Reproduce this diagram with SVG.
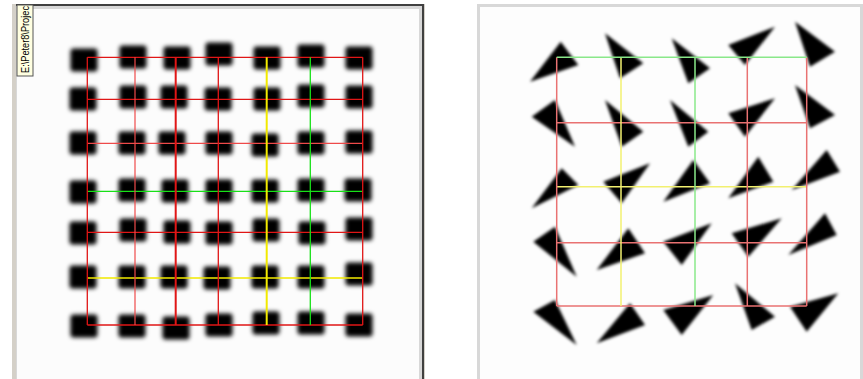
<svg xmlns="http://www.w3.org/2000/svg" width="863" height="379" viewBox="0 0 863 379">
<defs>
<style>
.sq{fill:#000;filter:url(#bl)}
.tr{fill:#000;filter:url(#bt)}
.lr{stroke:#e01616;stroke-width:1.3;fill:none}
.lr2{stroke:#ee4a4a;stroke-width:1.2;fill:none}
.ly{stroke:#f2ea00;stroke-width:2;fill:none}
.lg{stroke:#18e018;stroke-width:1.3;fill:none}
.rr{stroke:#e97272;stroke-width:1.5;fill:none}
.ry{stroke:#f2f070;stroke-width:1.5;fill:none}
.rg{stroke:#8ae88a;stroke-width:1.5;fill:none}
.lbl{font-family:"Liberation Sans",Arial,sans-serif;font-size:10px;fill:#000}
</style>
<filter id="bl" x="-30%" y="-30%" width="160%" height="160%"><feGaussianBlur stdDeviation="1.9"/></filter>
<filter id="bt" x="-30%" y="-30%" width="160%" height="160%"><feGaussianBlur stdDeviation="1.6"/></filter>
<rect id="s" x="-13.5" y="-11.5" width="27" height="23" rx="3"/>
</defs>
<rect width="863" height="379" fill="#fff"/>
<g id="left-panel">
<rect x="12" y="4" width="413" height="380" fill="#d4d0c8"/>
<rect x="16" y="4" width="408" height="380" fill="#404040"/>
<rect x="16" y="6" width="406" height="380" fill="#d8d8d8"/>
<rect x="17" y="9" width="402" height="375" fill="#fcfcfc"/>
<g id="tooltip">
<rect x="17" y="5" width="16" height="71" fill="#ffffe1" stroke="#555" stroke-width="1"/>
<text class="lbl" transform="translate(29,73) rotate(-90)" textLength="67" lengthAdjust="spacingAndGlyphs">E:\Peter8\Projec</text>
</g>
<g id="squares">
<use href="#s" x="84" y="60" class="sq"/><use href="#s" x="133" y="57" class="sq"/><use href="#s" x="177" y="58" class="sq"/><use href="#s" x="219" y="54" class="sq"/><use href="#s" x="267" y="58" class="sq"/><use href="#s" x="311" y="56" class="sq"/><use href="#s" x="359" y="58" class="sq"/>
<use href="#s" x="83" y="99" class="sq"/><use href="#s" x="133" y="97" class="sq"/><use href="#s" x="174" y="97" class="sq"/><use href="#s" x="218" y="99" class="sq"/><use href="#s" x="267" y="99" class="sq"/><use href="#s" x="311" y="96" class="sq"/><use href="#s" x="359" y="97" class="sq"/>
<use href="#s" x="83" y="143" class="sq"/><use href="#s" x="132" y="143" class="sq"/><use href="#s" x="172" y="143" class="sq"/><use href="#s" x="219" y="143" class="sq"/><use href="#s" x="265" y="145" class="sq"/><use href="#s" x="311" y="143" class="sq"/><use href="#s" x="359" y="142" class="sq"/>
<use href="#s" x="83" y="192" class="sq"/><use href="#s" x="132" y="190" class="sq"/><use href="#s" x="175" y="191" class="sq"/><use href="#s" x="219" y="191" class="sq"/><use href="#s" x="265" y="191" class="sq"/><use href="#s" x="311" y="190" class="sq"/><use href="#s" x="358" y="190" class="sq"/>
<use href="#s" x="83" y="233" class="sq"/><use href="#s" x="133" y="230" class="sq"/><use href="#s" x="177" y="232" class="sq"/><use href="#s" x="219" y="233" class="sq"/><use href="#s" x="266" y="230" class="sq"/><use href="#s" x="312" y="233" class="sq"/><use href="#s" x="359" y="229" class="sq"/>
<use href="#s" x="83" y="277" class="sq"/><use href="#s" x="132" y="277" class="sq"/><use href="#s" x="174" y="277" class="sq"/><use href="#s" x="217" y="278" class="sq"/><use href="#s" x="265" y="277" class="sq"/><use href="#s" x="311" y="277" class="sq"/><use href="#s" x="359" y="274" class="sq"/>
<use href="#s" x="84" y="326" class="sq"/><use href="#s" x="132" y="326" class="sq"/><use href="#s" x="176" y="328" class="sq"/><use href="#s" x="219" y="325" class="sq"/><use href="#s" x="266" y="323" class="sq"/><use href="#s" x="311" y="323" class="sq"/><use href="#s" x="359" y="325" class="sq"/>
</g>
<g id="left-grid">
<line class="lr" x1="87.3" y1="57.3" x2="362.7" y2="57.3"/>
<line class="lr" x1="87.3" y1="99.3" x2="362.7" y2="99.3"/>
<line class="lr2" x1="87.3" y1="143.3" x2="362.7" y2="143.3"/>
<line class="lg" x1="87.3" y1="191.3" x2="362.7" y2="191.3"/>
<line class="lr" x1="87.3" y1="232.3" x2="362.7" y2="232.3"/>
<line class="ly" x1="87.3" y1="278" x2="362.7" y2="278" style="stroke-width:1.4"/>
<line class="lr" x1="87.3" y1="325" x2="362.7" y2="325"/>
<line class="lr" x1="87.3" y1="57.3" x2="87.3" y2="325"/>
<line class="lr2" x1="135" y1="57.3" x2="135" y2="325"/>
<line class="lr" x1="175.7" y1="57.3" x2="175.7" y2="325" style="stroke-width:2"/>
<line class="lr" x1="218.3" y1="57.3" x2="218.3" y2="325"/>
<line class="ly" x1="266.7" y1="57.3" x2="266.7" y2="325"/>
<line class="lg" x1="310.3" y1="57.3" x2="310.3" y2="325"/>
<line class="lr" x1="362.7" y1="57.3" x2="362.7" y2="325"/>
</g>
</g>
<g id="right-panel">
<rect x="477" y="4" width="386" height="380" fill="#d8d8d8"/>
<rect x="480" y="7" width="380" height="377" fill="#fdfdfd"/>
<g id="triangles">
<polygon class="tr" points="560.7,41.7 530,81.7 578.3,65"/>
<polygon class="tr" points="605,33.3 643.3,63.3 620,78.3"/>
<polygon class="tr" points="671.7,38.3 710,68.3 688.3,83.3"/>
<polygon class="tr" points="728.3,45 775,26.7 745,65"/>
<polygon class="tr" points="795,21.7 835,51.7 810,66.7"/>
<polygon class="tr" points="531.7,116.7 555,100 575,146.7"/>
<polygon class="tr" points="605,100 643.3,131.7 621.7,146.7"/>
<polygon class="tr" points="670,100 708.3,131.7 688.3,146.7"/>
<polygon class="tr" points="728.3,113.3 775,98.3 745,136.7"/>
<polygon class="tr" points="795,85 835,115 810,128.3"/>
<polygon class="tr" points="561.7,168.3 578.3,185 531.7,208.3"/>
<polygon class="tr" points="603.3,181.7 650,163.3 621.7,203.3"/>
<polygon class="tr" points="693.3,160 710,183.3 663.3,201.7"/>
<polygon class="tr" points="758.3,156.7 773.3,181.7 728.3,198.3"/>
<polygon class="tr" points="826.7,150 840,171.7 791.7,190"/>
<polygon class="tr" points="533.3,241.7 555,226.7 576.7,276.7"/>
<polygon class="tr" points="628.3,228.3 645,253.3 596.7,270"/>
<polygon class="tr" points="663.3,241.7 711.7,223.3 681.7,265"/>
<polygon class="tr" points="731.7,233.3 781.7,218.3 748.3,256.7"/>
<polygon class="tr" points="825,213.3 836.7,235 788.3,255"/>
<polygon class="tr" points="533.3,311.7 555,300 576.7,345"/>
<polygon class="tr" points="630,303.3 645,325 596.7,343.3"/>
<polygon class="tr" points="663.3,310 713.3,295 681.7,335"/>
<polygon class="tr" points="735,283.3 775,316.7 751.7,330"/>
<polygon class="tr" points="790,306.7 838.3,293.3 806.7,331.7"/>
</g>
<g id="right-grid">
<line class="rr" x1="556.7" y1="122.7" x2="806.7" y2="122.7"/>
<line class="ry" x1="556.7" y1="186.7" x2="806.7" y2="186.7"/>
<line class="rr" x1="556.7" y1="242.7" x2="806.7" y2="242.7"/>
<line class="rr" x1="556.7" y1="306" x2="806.7" y2="306"/>
<line class="rr" x1="556.7" y1="57.3" x2="556.7" y2="306"/>
<line class="ry" x1="621" y1="57.3" x2="621" y2="306"/>
<line class="rg" x1="695" y1="57.3" x2="695" y2="306"/>
<line class="rr" x1="747.3" y1="57.3" x2="747.3" y2="306"/>
<line class="rr" x1="806.7" y1="57.3" x2="806.7" y2="306"/>
<line class="rg" x1="556.7" y1="57.3" x2="806.7" y2="57.3"/>
</g>
</g>
</svg>
